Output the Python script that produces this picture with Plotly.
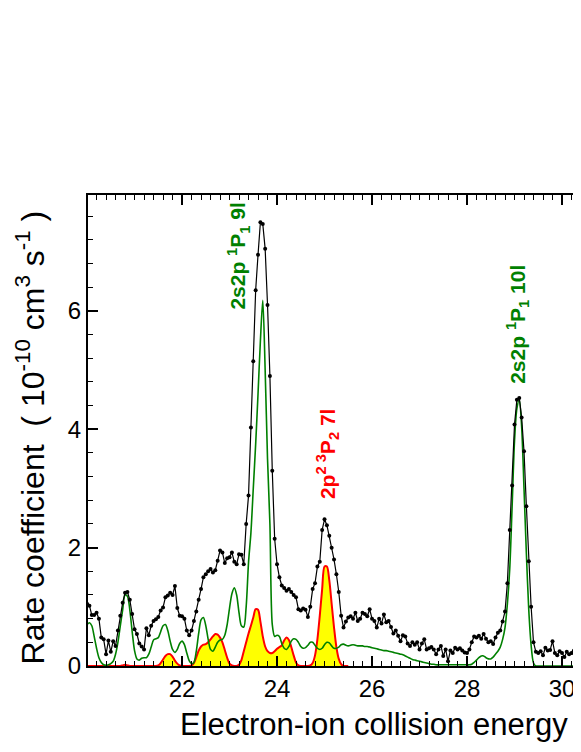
"""Electron-ion recombination rate coefficient: experiment vs theory."""

import numpy as np
import plotly.graph_objects as go

# energy grid of the scan (eV), 0.05 eV steps starting at 20.00
e_start = 20.0
e_step = 0.05

# measured rate coefficient (1e-10 cm^3 s^-1)
rate_exp = [
    1.05, 1.02, 0.86, 0.86, 0.90, 0.80, 0.48, 0.45, 0.20, 0.43,
    0.24, 0.42, 0.34, 0.60, 0.85, 1.07, 1.24, 1.25, 1.12, 0.88,
    0.62, 0.54, 0.38, 0.33, 0.28, 0.64, 0.52, 0.68, 0.76, 0.79,
    0.83, 0.94, 0.99, 1.16, 1.19, 1.24, 1.20, 1.35, 0.98, 0.85,
    0.84, 0.80, 0.60, 0.52, 0.60, 0.76, 0.92, 1.12, 1.30, 1.50,
    1.55, 1.60, 1.64, 1.58, 1.62, 1.78, 1.95, 1.92, 1.74, 1.82,
    1.84, 1.92, 1.76, 1.72, 1.89, 1.88, 1.72, 2.40, 2.88, 4.03,
    5.15, 6.35, 6.95, 7.50, 7.47, 7.05, 6.10, 4.90, 3.30, 2.15,
    1.72, 1.50, 1.36, 1.32, 1.27, 1.30, 1.25, 1.20, 1.16, 0.96,
    0.94, 0.97, 0.95, 0.83, 1.00, 1.30, 1.40, 1.68, 1.76, 2.30,
    2.48, 2.38, 2.20, 2.00, 1.80, 1.55, 1.25, 0.85, 0.65, 0.75,
    0.82, 0.84, 0.80, 0.90, 0.76, 0.80, 0.90, 0.88, 0.84, 0.96,
    0.80, 0.76, 0.65, 0.80, 0.72, 0.87, 0.74, 0.76, 0.66, 0.55,
    0.60, 0.51, 0.42, 0.52, 0.50, 0.38, 0.34, 0.40, 0.36, 0.40,
    0.28, 0.38, 0.45, 0.28, 0.30, 0.32, 0.28, 0.20, 0.28, 0.34,
    0.17, 0.28, 0.08, 0.26, 0.22, 0.31, 0.28, 0.30, 0.26, 0.23,
    0.22, 0.28, 0.40, 0.50, 0.48, 0.51, 0.46, 0.54, 0.46, 0.40,
    0.42, 0.37, 0.48, 0.56, 0.60, 0.75, 0.92, 1.40, 2.30, 3.05,
    4.08, 4.50, 4.53, 4.20, 3.63, 2.70, 1.77, 1.00, 0.40, 0.24,
    0.22, 0.25, 0.18, 0.31, 0.26, 0.27, 0.42, 0.22, 0.18, 0.25,
    0.22, 0.15, 0.24, 0.20, 0.22, 0.26, 0.20, 0.28,
]

# total theoretical rate coefficient (convolved)
rate_theory = [
    0.70, 0.73, 0.68, 0.50, 0.30, 0.14, 0.06, 0.02, 0.01, 0.02,
    0.04, 0.08, 0.20, 0.40, 0.68, 0.95, 1.20, 1.18, 0.95, 0.58,
    0.26, 0.12, 0.10, 0.13, 0.14, 0.14, 0.20, 0.32, 0.44, 0.46,
    0.48, 0.58, 0.68, 0.70, 0.60, 0.42, 0.28, 0.23, 0.28, 0.38,
    0.42, 0.36, 0.22, 0.09, 0.04, 0.06, 0.25, 0.55, 0.78, 0.82,
    0.68, 0.45, 0.28, 0.25, 0.32, 0.40, 0.44, 0.45, 0.52, 0.70,
    0.98, 1.22, 1.32, 1.20, 0.90, 0.68, 0.66, 1.00, 1.75, 2.25,
    3.00, 3.75, 4.60, 5.50, 6.18, 5.00, 3.50, 2.40, 0.70, 0.50,
    0.52, 0.50, 0.38, 0.30, 0.28, 0.33, 0.42, 0.46, 0.45, 0.40,
    0.33, 0.30, 0.31, 0.35, 0.40, 0.40, 0.35, 0.30, 0.28, 0.30,
    0.36, 0.40, 0.39, 0.34, 0.30, 0.30, 0.32, 0.36, 0.37, 0.35,
    0.34, 0.35, 0.36, 0.35, 0.34, 0.34, 0.34, 0.33, 0.33, 0.32,
    0.31, 0.30, 0.29, 0.28, 0.27, 0.26, 0.26, 0.25, 0.24, 0.23,
    0.22, 0.21, 0.20, 0.19, 0.17, 0.15, 0.13, 0.11, 0.10, 0.09,
    0.08, 0.07, 0.06, 0.05, 0.04, 0.03, 0.03, 0.02, 0.02, 0.02,
    0.02, 0.02, 0.02, 0.02, 0.02, 0.02, 0.02, 0.02, 0.02, 0.02,
    0.02, 0.02, 0.03, 0.06, 0.10, 0.14, 0.17, 0.17, 0.14, 0.12,
    0.12, 0.15, 0.20, 0.25, 0.32, 0.45, 0.65, 1.05, 1.65, 2.70,
    3.80, 4.35, 4.50, 4.05, 3.00, 1.90, 0.95, 0.35, 0.05, 0.00,
    0.00, 0.00, 0.00, 0.00, 0.00, 0.00, 0.00, 0.00, 0.00, 0.00,
    0.00, 0.00, 0.00, 0.00, 0.00, 0.00, 0.00, 0.00,
]

# 2p^2 3P2 contribution (20.00 - 25.50 eV)
rate_2p2 = [
    0.00, 0.00, 0.00, 0.00, 0.00, 0.00, 0.00, 0.00, 0.00, 0.00,
    0.00, 0.00, 0.00, 0.00, 0.00, 0.01, 0.02, 0.01, 0.00, 0.00,
    0.00, 0.00, 0.00, 0.00, 0.00, 0.00, 0.00, 0.00, 0.00, 0.00,
    0.01, 0.05, 0.11, 0.17, 0.20, 0.20, 0.16, 0.09, 0.04, 0.01,
    0.00, 0.00, 0.00, 0.00, 0.01, 0.05, 0.15, 0.26, 0.33, 0.36,
    0.37, 0.40, 0.45, 0.50, 0.54, 0.53, 0.48, 0.40, 0.27, 0.14,
    0.04, 0.01, 0.00, 0.00, 0.02, 0.10, 0.25, 0.40, 0.55, 0.68,
    0.82, 0.96, 0.95, 0.75, 0.50, 0.33, 0.25, 0.22, 0.22, 0.25,
    0.29, 0.32, 0.35, 0.43, 0.48, 0.44, 0.32, 0.18, 0.06, 0.01,
    0.00, 0.00, 0.00, 0.00, 0.01, 0.05, 0.18, 0.45, 0.85, 1.30,
    1.68, 1.68, 1.45, 1.05, 0.65, 0.32, 0.12, 0.03, 0.00, 0.00, 0.00,
]

x_ticks = [22, 24, 26, 28, 30]
y_ticks = [0, 2, 4, 6]

energy = np.round(e_start + e_step * np.arange(len(rate_exp)), 2)

GREEN = "#008000"
RED = "#ff0000"
FONT = "Liberation Sans, Arial, sans-serif"

fig = go.Figure()

fig.add_trace(go.Scatter(
    x=energy[:len(rate_2p2)], y=rate_2p2,
    mode="lines", line=dict(color=RED, width=2, shape="spline", smoothing=0.8),
    fill="tozeroy", fillcolor="#ffff00", showlegend=False,
))

fig.add_trace(go.Scatter(
    x=energy, y=rate_theory,
    mode="lines", line=dict(color=GREEN, width=1.6, shape="spline", smoothing=0.8),
    showlegend=False,
))

fig.add_trace(go.Scatter(
    x=energy, y=rate_exp,
    mode="lines+markers", line=dict(color="black", width=1.2),
    marker=dict(color="black", size=4),
    showlegend=False,
))

# peak labels
labels = [
    (23.18, 6.92, "2s2p <sup>1</sup>P<sub>1</sub> 9l", GREEN),
    (25.05, 3.58, "2p<sup>2 3</sup>P<sub>2</sub> 7l", RED),
    (29.07, 5.78, "2s2p <sup>1</sup>P<sub>1</sub> 10l", GREEN),
]
for x, y, text, color in labels:
    fig.add_annotation(
        x=x, y=y, text=f"<b>{text}</b>", textangle=-90, showarrow=False,
        xanchor="center", yanchor="middle",
        font=dict(family=FONT, size=21, color=color),
    )

# axis titles
fig.add_annotation(
    xref="paper", yref="paper", x=0.1826, y=-0.125,
    xanchor="left", yanchor="middle", showarrow=False,
    text="Electron-ion collision energy",
    font=dict(family=FONT, size=31, color="black"),
)
fig.add_annotation(
    xref="paper", yref="paper", x=-0.118, y=0.485,
    xanchor="center", yanchor="middle", showarrow=False, textangle=-90,
    text="Rate coefficient  ( 10<sup>-10</sup> cm<sup>3</sup> s<sup>-1</sup> )",
    font=dict(family=FONT, size=32, color="black"),
)

fig.update_xaxes(
    range=[20.02, 30.40], tickvals=x_ticks,
    showgrid=False, zeroline=False,
    showline=True, linecolor="black", linewidth=2, mirror="allticks",
    ticks="inside", ticklen=10, tickwidth=1.5, tickcolor="black",
    minor=dict(dtick=0.2, tick0=0, ticks="inside", ticklen=5,
               tickwidth=1.2, tickcolor="black", showgrid=False),
    tickfont=dict(family=FONT, size=24, color="black"),
)
fig.update_yaxes(
    range=[0, 7.96], tickvals=y_ticks,
    showgrid=False, zeroline=False,
    showline=True, linecolor="black", linewidth=2,
    ticks="inside", ticklen=10, tickwidth=1.5, tickcolor="black",
    minor=dict(dtick=0.4, tick0=0, ticks="inside", ticklen=5,
               tickwidth=1.2, tickcolor="black", showgrid=False),
    tickfont=dict(family=FONT, size=24, color="black"),
)

# the page adds an 8 px body margin, so the figure is shrunk by that much
fig.update_layout(
    width=573, height=744,
    margin=dict(l=80, r=0, t=187, b=86),
    plot_bgcolor="white", paper_bgcolor="white",
    showlegend=False,
)

fig.write_html("out.html")
